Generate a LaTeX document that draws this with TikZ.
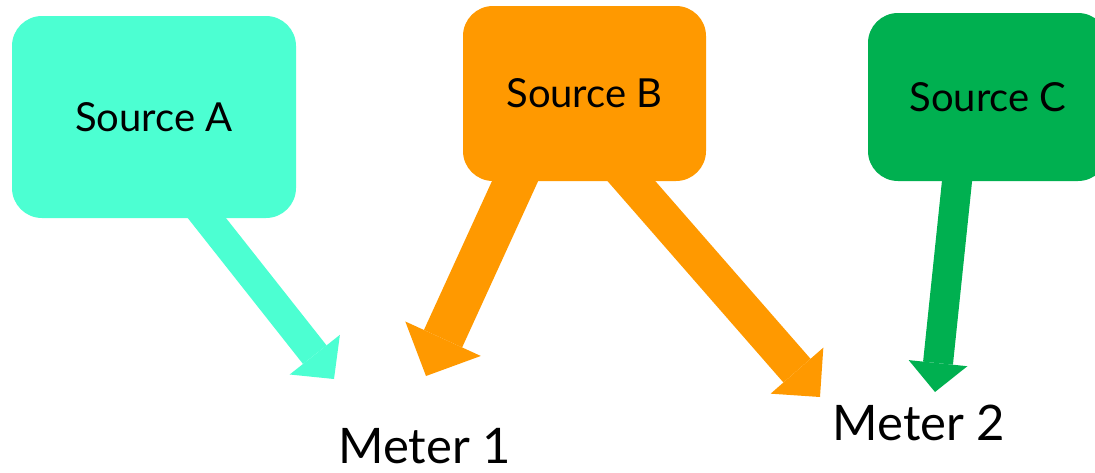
\documentclass[tikz,border=0pt]{standalone}
\usepackage{fontspec}
\setmainfont{Lato}
\usetikzlibrary{arrows.meta,backgrounds,calc}

\definecolor{aqua}{RGB}{76,255,210}
\definecolor{amber}{RGB}{255,153,0}
\definecolor{leaf}{RGB}{0,176,80}

\tikzset{
  srcbox/.style={rectangle, rounded corners=30pt, inner sep=0pt,
    font=\fontsize{40}{48}\selectfont, text=black},
  meterlabel/.style={anchor=base, inner sep=0pt,
    font=\fontsize{49}{58}\selectfont, text=black},
  % block arrow: thick shaft with a wide triangular head
  flow/.style n args={4}{draw=#1, line width=#2, shorten <=-40pt,
    -{Triangle[length=#3, width=#4, line width=0pt, fill=#1]}},
}

\begin{document}
\begin{tikzpicture}[x=1pt, y=-1pt]
  \useasboundingbox (0,0) rectangle (1095,472);
  \clip (0,0) rectangle (1095,472);

  % sources
  \node[srcbox, fill=aqua, minimum width=284pt, minimum height=202pt]
    (srcA) at (154,117) {Source A};
  \node[srcbox, fill=amber, minimum width=243pt, minimum height=175pt]
    (srcB) at (584.5,93.5) {Source B};
  \node[srcbox, fill=leaf, minimum width=240pt, minimum height=168pt]
    (srcC) at (988,97) {Source C};

  % meters
  \node[meterlabel] (m1) at (424.5,463) {Meter 1};
  \node[meterlabel] (m2) at (919,440) {Meter 2};

  % arrow roots on the box edges and arrow tips above the meters
  \coordinate (a0) at ($(srcA.south)+(53,0)$);
  \coordinate (a1) at (334,379);
  \coordinate (b0) at ($(srcB.south)+(-69.5,0)$);
  \coordinate (b1) at (426,376);
  \coordinate (b2) at ($(srcB.south)+(47,0)$);
  \coordinate (b3) at (820,397);
  \coordinate (c0) at ($(srcC.south)+(-31,0)$);
  \coordinate (c1) at (935,392);

  \begin{pgfonlayer}{background}
    \draw[flow={aqua}{30pt}{31pt}{64pt}]  (a0) -- (a1);
    \draw[flow={amber}{42pt}{41pt}{83pt}] (b0) -- (b1);
    \draw[flow={amber}{36pt}{35pt}{70pt}] (b2) -- (b3);
    \draw[flow={leaf}{30pt}{29pt}{59pt}]  (c0) -- (c1);
  \end{pgfonlayer}
\end{tikzpicture}
\end{document}
